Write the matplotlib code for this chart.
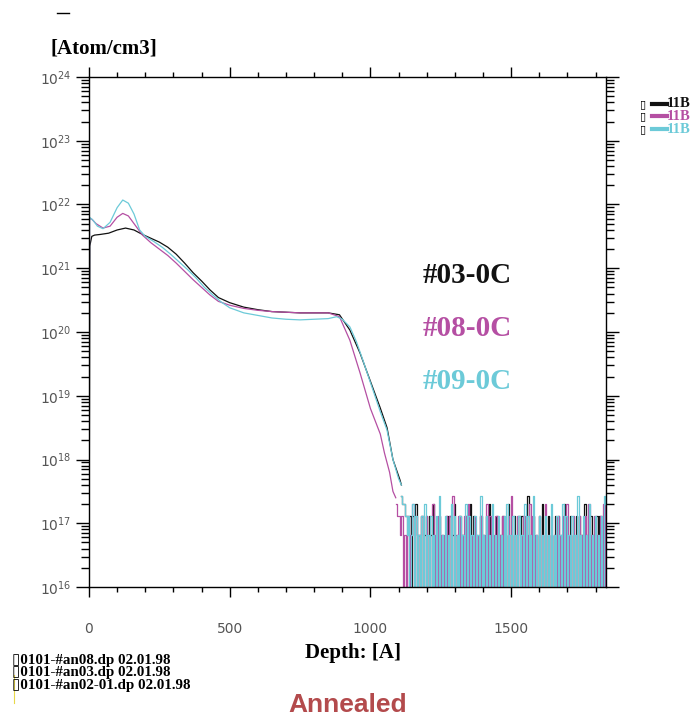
import matplotlib
matplotlib.use("Agg")
import matplotlib.pyplot as plt
from matplotlib.lines import Line2D
from matplotlib.ticker import FixedLocator, FuncFormatter, MultipleLocator
import numpy as np

# smooth part of the profiles: depth [A] and log10(concentration [Atom/cm3])
depth_03 = [0, 3, 10, 20, 40, 70, 100, 130, 160, 190, 220, 250, 280, 310, 340, 370, 400,
            430, 460, 500, 550, 600, 650, 700, 750, 800, 850, 890, 927, 963, 998, 1034,
            1059, 1080, 1105, 1110]
log_03 = [15.0, 21.35, 21.5, 21.52, 21.53, 21.55, 21.6, 21.63, 21.6, 21.53, 21.47, 21.41,
          21.33, 21.22, 21.08, 20.93, 20.8, 20.66, 20.54, 20.46, 20.39, 20.35, 20.32, 20.31,
          20.3, 20.3, 20.3, 20.27, 20.03, 19.67, 19.25, 18.82, 18.5, 18.0, 17.68, 17.6]

depth_08 = [0, 2, 10, 25, 50, 75, 100, 120, 140, 160, 190, 220, 250, 280, 310, 340, 370,
            400, 430, 460, 500, 550, 600, 650, 700, 750, 800, 850, 890, 927, 963, 1000,
            1035, 1050, 1068, 1080, 1090]
log_08 = [15.0, 21.78, 21.77, 21.7, 21.63, 21.66, 21.8, 21.86, 21.82, 21.7, 21.52, 21.4,
          21.3, 21.2, 21.08, 20.95, 20.82, 20.7, 20.58, 20.48, 20.42, 20.37, 20.34, 20.32,
          20.31, 20.3, 20.3, 20.3, 20.24, 19.87, 19.36, 18.8, 18.4, 18.1, 17.8, 17.5, 17.4]

depth_09 = [0, 2, 15, 30, 50, 75, 100, 120, 140, 160, 180, 200, 230, 260, 290, 320, 350,
            380, 410, 440, 470, 500, 550, 600, 650, 700, 750, 800, 850, 880, 900, 927, 950,
            973, 1009, 1035, 1059, 1080, 1100, 1110]
log_09 = [15.0, 21.8, 21.75, 21.66, 21.62, 21.72, 21.95, 22.07, 22.02, 21.85, 21.6, 21.5,
          21.42, 21.33, 21.22, 21.1, 20.98, 20.85, 20.7, 20.58, 20.47, 20.38, 20.3, 20.26,
          20.22, 20.2, 20.19, 20.2, 20.21, 20.24, 20.2, 20.08, 19.85, 19.56, 19.09, 18.75,
          18.46, 18.0, 17.7, 17.6]

# detection-limit tail: counts per depth bin (0 = nothing detected)
tail_start = {"03": 1110, "08": 1090, "09": 1110}
tail_end = 1836
count_unit = 6.6e16
tail_03 = ("43322120213010201202103010201012020130102010210302010120102030101201020103"
           "010201202010401020102030102010120201030102010202010301020102020103")
tail_08 = ("32212010201302010210201030102010120204010201020301020102010302010201020102"
           "040102010201030201020103010201020102030102010201020301020102030")
tail_09 = ("43321201302010203010201020401020103020102010302010201040102010301020102030"
           "102010201030201040102010201030102010302010201040102010301020102043")

labels = ["#03-0C", "#08-0C", "#09-0C"]
colors = ["#111111", "#b54fa3", "#6ccad8"]
file_names = ["0101-#an08.dp 02.01.98", "0101-#an03.dp 02.01.98", "0101-#an02-01.dp 02.01.98"]

fig = plt.figure(figsize=(6.94, 7.2), dpi=100)
ax = fig.add_axes([0.1282, 0.1847, 0.745, 0.7084])

series = [(depth_03, log_03, tail_03, "03"), (depth_08, log_08, tail_08, "08"),
          (depth_09, log_09, tail_09, "09")]
for (d, lg, tail, key), col in zip(series, colors):
    ax.plot(d, 10.0 ** np.array(lg), color=col, lw=0.9)
    counts = np.array([int(ch) for ch in tail], dtype=float)
    vals = np.where(counts > 0, counts * count_unit, 1e14)
    td = np.linspace(tail_start[key], tail_end, len(tail))
    ax.plot(td, vals, color=col, lw=0.9, drawstyle="steps-mid")

ax.set_yscale("log")
ax.set_ylim(1e16, 1e24)
ax.set_xlim(0, 1837)
ax.yaxis.set_major_locator(FixedLocator([10.0 ** k for k in range(16, 25)]))
ax.yaxis.set_major_formatter(FuncFormatter(lambda v, p: r"$\mathregular{10^{%d}}$" % round(np.log10(v))))
ax.xaxis.set_major_locator(MultipleLocator(500))
ax.xaxis.set_minor_locator(MultipleLocator(100))

for s in ax.spines.values():
    s.set_linewidth(1.0)
ax.tick_params(which="both", direction="out", top=True, right=True, labelcolor="#555555",
               labelsize=10, width=1.0)
ax.tick_params(axis="y", which="major", length=9.5, pad=3)
ax.tick_params(axis="y", which="minor", length=5.5)
ax.tick_params(axis="x", which="major", length=7, pad=18)
ax.tick_params(axis="x", which="minor", length=3.8)

serif = ["Liberation Serif", "DejaVu Serif"]
fig.text(0.15, 0.933, "[Atom/cm3]", family=serif, weight="bold", fontsize=15,
         ha="center", va="center")
fig.text(0.509, 0.093, "Depth: [A]", family=serif, weight="bold", fontsize=15,
         ha="center", va="center")
fig.text(0.501, 0.021, "Annealed", family="Liberation Sans", weight="bold", fontsize=19,
         color="#b34a4c", ha="center", va="center")

for i, (lab, col) in enumerate(zip(labels, colors)):
    fig.text(0.609, 0.618 - i * 0.0736, lab, family=serif, weight="bold", fontsize=21,
             color=col, ha="left", va="center")

# legend in the top right corner
for i, col in enumerate(colors):
    y = 0.8556 - i * 0.0174
    fig.text(0.922, y, "\u25af", family="DejaVu Sans", fontsize=8, ha="left", va="center")
    fig.add_artist(Line2D([0.9395, 0.961], [y, y], transform=fig.transFigure, color=col, lw=3))
    fig.text(0.961, y, "11B", family=serif, weight="bold", fontsize=10.5, color=col,
             ha="left", va="center")

# file list at bottom left
for i, name in enumerate(file_names):
    fig.text(0.018, 0.0833 - i * 0.0174, "\u25af" + name, family=serif + ["DejaVu Sans"],
             weight="bold", fontsize=10.8, ha="left", va="center")

fig.add_artist(Line2D([0.082, 0.0994], [0.982, 0.982], transform=fig.transFigure,
                      color="black", lw=1))
fig.add_artist(Line2D([0.0202, 0.0202], [0.0625, 0.0236], transform=fig.transFigure,
                      color="#e8d84a", lw=0.8))

fig.savefig("out.png", dpi=100)
